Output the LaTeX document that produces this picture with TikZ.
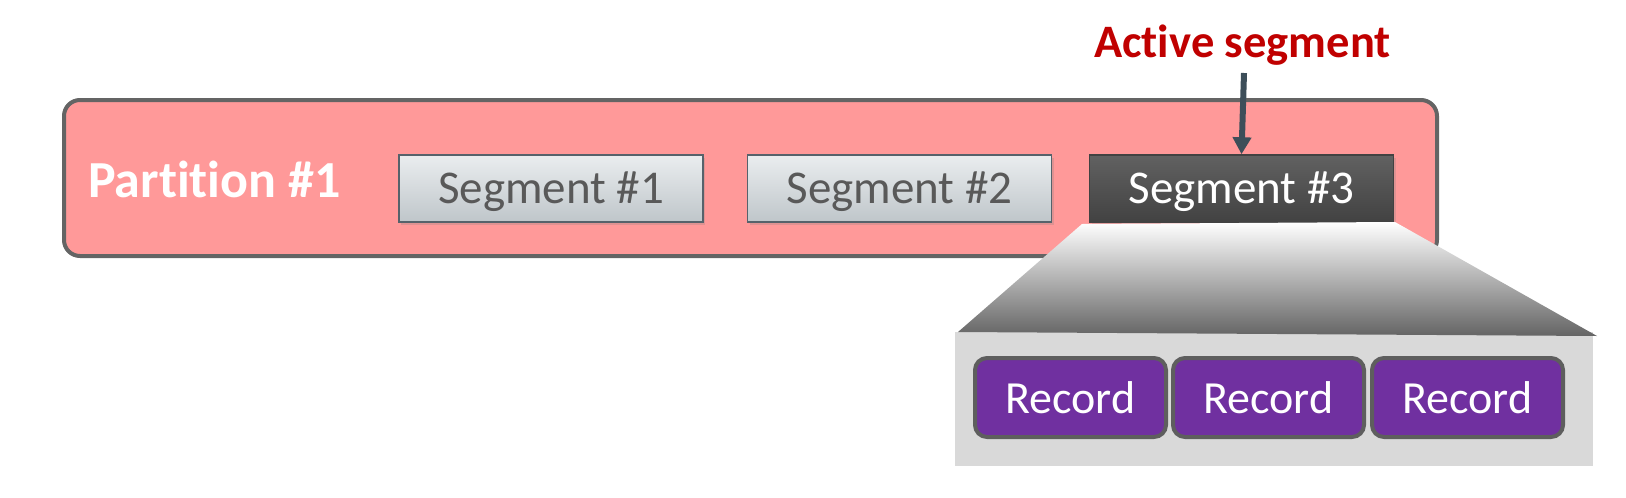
\documentclass[tikz,border=0pt]{standalone}
\usepackage{fontspec}
\setmainfont{Carlito}[Ligatures=NoCommon]
\usetikzlibrary{arrows.meta,shadows}
\definecolor{partfill}{HTML}{FF9999}
\definecolor{partdraw}{HTML}{646464}
\definecolor{segtop}{HTML}{EAEDEF}
\definecolor{segbot}{HTML}{BFC6CA}
\definecolor{segdraw}{HTML}{56626B}
\definecolor{segtext}{HTML}{595959}
\definecolor{darktop}{HTML}{616161}
\definecolor{darkbot}{HTML}{424242}
\definecolor{arrcol}{HTML}{3D4E59}
\definecolor{activecol}{HTML}{C00000}
\definecolor{recfill}{HTML}{7030A0}
\definecolor{recdraw}{HTML}{5E5E5E}
\definecolor{boxgray}{HTML}{D9D9D9}
\definecolor{trapbot}{HTML}{646464}
\tikzset{
  partbox/.style={draw=partdraw, line width=4pt, fill=partfill, rounded corners=16pt,
    minimum width=1373pt, minimum height=156pt, inner sep=0pt},
  segbox/.style={draw=segdraw, line width=1.5pt, top color=segtop, bottom color=segbot,
    minimum width=304pt, minimum height=67pt, inner sep=0pt,
    text height=30pt, text depth=0pt, text=segtext,
    font=\fontsize{47}{50}\selectfont,
    drop shadow={shadow xshift=2pt, shadow yshift=-3pt, opacity=0.25}},
  darkseg/.style={segbox, draw=darkbot, top color=darktop, bottom color=darkbot, text=white},
  recbox/.style={draw=recdraw, line width=4pt, fill=recfill, rounded corners=12pt,
    minimum width=191pt, minimum height=79pt, inner sep=0pt,
    text height=31pt, text depth=0pt, text=white,
    font=\fontsize{46}{50}\selectfont},
  arr/.style={draw=arrcol, line width=6pt, -{Triangle[width=18pt,length=17pt]}},
}
\begin{document}
\begin{tikzpicture}[x=1pt,y=-1pt]
\useasboundingbox (0,0) rectangle (1626,498);
% partition
\node[partbox] (part) at (750.5,178) {};
\node[anchor=base west, inner sep=0pt, text=white, font=\fontsize{52}{55}\selectfont\bfseries] (plabel) at (88,197) {Partition \#1};
% segments
\node[segbox] (seg1) at (551,188.5) {Segment \#1};
\node[segbox] (seg2) at (899.5,188.5) {Segment \#2};
\node[darkseg] (seg3) at (1241.5,188.5) {Segment \#3};
% active label + arrow
\node[anchor=base, inner sep=0pt, text=activecol, font=\fontsize{46.5}{50}\selectfont\bfseries] (act) at (1242.5,57) {Active segment};
\coordinate (atop) at (1244,73);
\draw[arr] (atop) -- (seg3.north);
% record container
\node[fill=boxgray, inner sep=0pt, minimum width=638pt, minimum height=134pt] (cont) at (1274,399) {};
% zoom trapezoid
\shade[top color=white, bottom color=trapbot] (1082,224) -- (1395,222) -- (1597,336) -- (958,332) -- cycle;
% records
\node[recbox] (r1) at (1070.5,397.5) {Record};
\node[recbox] (r2) at (1268.5,397.5) {Record};
\node[recbox] (r3) at (1467.5,397.5) {Record};
\end{tikzpicture}
\end{document}
